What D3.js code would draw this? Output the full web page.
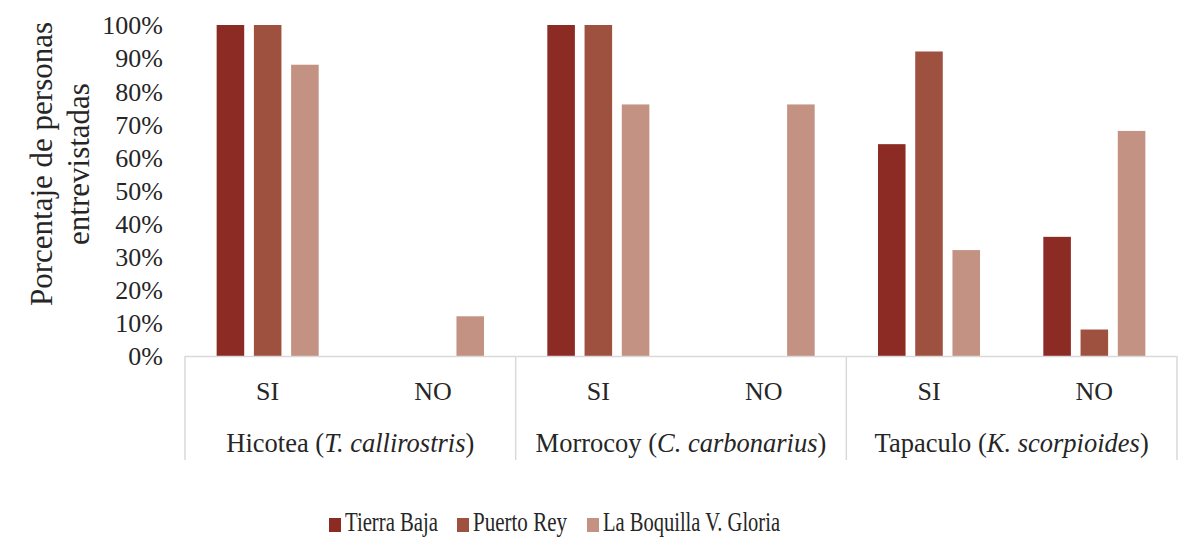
<!DOCTYPE html>
<html>
<head>
<meta charset="utf-8">
<script src="https://cdn.jsdelivr.net/npm/d3@7"></script>
<style>
  html, body { margin: 0; padding: 0; background: #fff; overflow: hidden; }
  svg { display: block; }
  text { font-family: "Liberation Serif", "DejaVu Serif", serif; fill: #262626; }
</style>
</head>
<body>
<svg id="chart" width="1189" height="537"></svg>
<script>
// Species groups and answer sub-categories
const groups = ["Hicotea", "Morrocoy", "Tapaculo"];
const groupLatin = ["T. callirostris", "C. carbonarius", "K. scorpioides"];
const answers = ["SI", "NO"];
const series = ["Tierra Baja", "Puerto Rey", "La Boquilla V. Gloria"];
const colors = ["#8c2a24", "#9f5140", "#c39282"];

// Percent of respondents, one array per locality, in order:
// Hicotea SI, Hicotea NO, Morrocoy SI, Morrocoy NO, Tapaculo SI, Tapaculo NO
const tierraBaja = [100, 0, 100, 0, 64, 36];
const puertoRey = [100, 0, 100, 0, 92, 8];
const laBoquilla = [88, 12, 76, 76, 32, 68];
const yTicks = [0, 10, 20, 30, 40, 50, 60, 70, 80, 90, 100];

const values = [tierraBaja, puertoRey, laBoquilla];
const cats = [];
groups.forEach((g, gi) => answers.forEach(a => cats.push({ key: g + "-" + a, group: gi, answer: a })));

const svg = d3.select("#chart");
const plotL = 185, plotR = 1177, plotT = 25, plotB = 356;

const x0 = d3.scaleBand().domain(cats.map(c => c.key)).range([plotL, plotR]).padding(0);
const x1 = d3.scaleBand().domain(series).range([0, x0.bandwidth()]).paddingInner(0.26).paddingOuter(0.85);
const y = d3.scaleLinear().domain([0, 100]).range([plotB, plotT]);

// Bars
series.forEach((s, si) => {
  svg.append("g").selectAll("rect")
    .data(cats.map((c, ci) => ({ c, v: values[si][ci] })).filter(d => d.v > 0))
    .join("rect")
    .attr("x", d => x0(d.c.key) + x1(s))
    .attr("y", d => y(d.v))
    .attr("width", x1.bandwidth())
    .attr("height", d => y(0) - y(d.v))
    .attr("fill", colors[si]);
});

// Y axis labels
const yAxis = d3.axisLeft(y).tickValues(yTicks).tickFormat(d => d + "%").tickSize(0).tickPadding(0);
const yg = svg.append("g").attr("transform", `translate(${163},0)`).call(yAxis);
yg.select(".domain").remove();
yg.selectAll("text").style("font-family", "'Liberation Serif', serif").style("font-size", "26px").attr("fill", "#262626").attr("dy", "0.34em");

// Category axis line and group separators
const lineColor = "#d9d9d9";
svg.append("line").attr("x1", plotL).attr("x2", plotR).attr("y1", plotB + 0.5).attr("y2", plotB + 0.5)
  .attr("stroke", lineColor).attr("stroke-width", 1.5);
const groupW = (plotR - plotL) / groups.length;
d3.range(groups.length + 1).forEach(i => {
  const gx = plotL + i * groupW;
  svg.append("line").attr("x1", gx).attr("x2", gx).attr("y1", plotB).attr("y2", 460)
    .attr("stroke", lineColor).attr("stroke-width", 1.5);
});

// Answer labels
svg.append("g").selectAll("text").data(cats).join("text")
  .attr("x", d => x0(d.key) + x0.bandwidth() / 2)
  .attr("y", 400)
  .attr("text-anchor", "middle")
  .style("font-size", "26px")
  .text(d => d.answer);

// Group labels with italic scientific names
groups.forEach((g, gi) => {
  const t = svg.append("text")
    .attr("x", plotL + gi * groupW + groupW / 2)
    .attr("y", 452)
    .attr("text-anchor", "middle")
    .style("font-size", "26.5px");
  t.append("tspan").text(g + " (");
  t.append("tspan").style("font-style", "italic").text(groupLatin[gi]);
  t.append("tspan").text(")");
});

// Y axis title
const title = svg.append("text")
  .attr("transform", "translate(0,164) rotate(-90)")
  .attr("text-anchor", "middle")
  .style("font-size", "31px");
title.append("tspan").attr("x", 0).attr("y", 52).text("Porcentaje de personas");
title.append("tspan").attr("x", 0).attr("y", 89).text("entrevistadas");

// Legend (condensed lettering)
const legendItems = [
  { x: 329, tx: 345, w: 93 },
  { x: 457, tx: 473, w: 94 },
  { x: 587, tx: 603, w: 177 }
];
series.forEach((s, si) => {
  svg.append("rect").attr("x", legendItems[si].x).attr("y", 518).attr("width", 12).attr("height", 14).attr("fill", colors[si]);
  svg.append("text").attr("x", legendItems[si].tx).attr("y", 531)
    .style("font-size", "28px")
    .attr("textLength", legendItems[si].w).attr("lengthAdjust", "spacingAndGlyphs")
    .text(s);
});
</script>
</body>
</html>
